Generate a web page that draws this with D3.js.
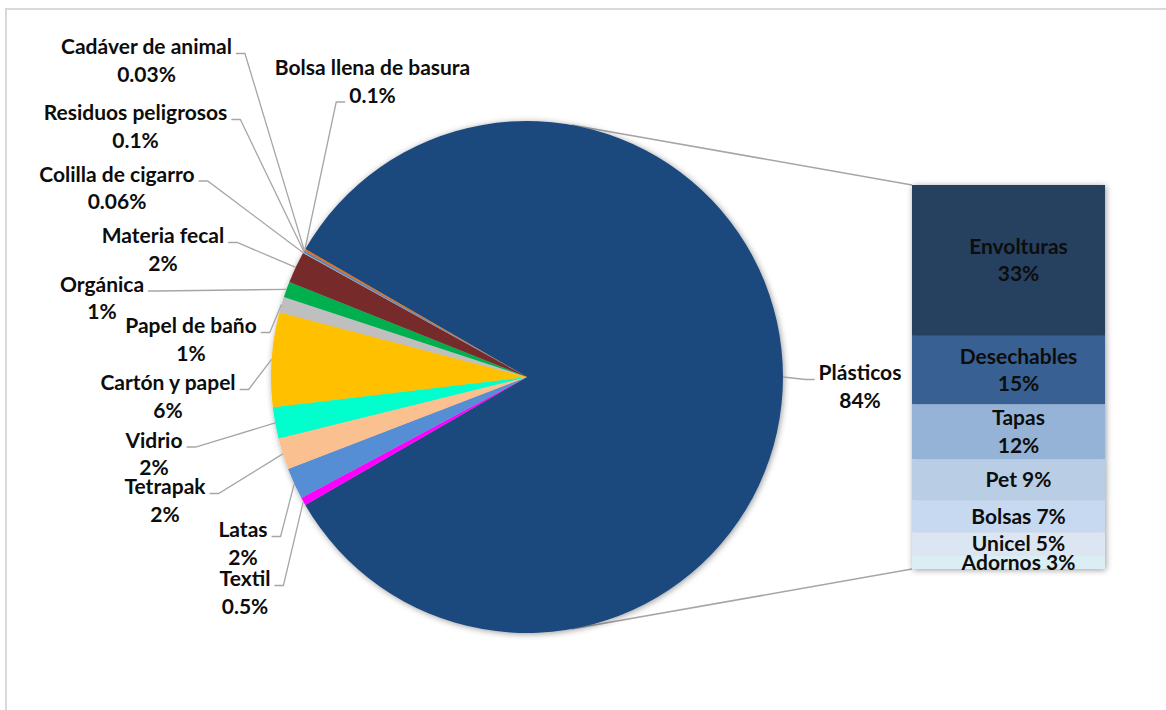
<!DOCTYPE html>
<html>
<head>
<meta charset="utf-8">
<script src="https://cdn.jsdelivr.net/npm/d3@7"></script>
<style>
  html, body { margin: 0; padding: 0; background: #ffffff; }
  svg { display: block; }
  text { font-family: "Lato", "Noto Sans", sans-serif; font-weight: 700; font-size: 21px; fill: #0d0d0d; }
</style>
</head>
<body>
<script>
// Main pie: waste categories (percent of total)
const pieNames = ["Plásticos", "Textil", "Latas", "Tetrapak", "Vidrio", "Cartón y papel",
  "Papel de baño", "Orgánica", "Materia fecal", "Colilla de cigarro",
  "Residuos peligrosos", "Cadáver de animal", "Bolsa llena de basura"];
const pieValues = [84, 0.5, 2, 2, 2, 6, 1, 1, 2, 0.06, 0.1, 0.03, 0.1];

// Breakdown of plastics (percent of total)
const barNames = ["Envolturas", "Desechables", "Tapas", "Pet", "Bolsas", "Unicel", "Adornos"];
const barValues = [33, 15, 12, 9, 7, 5, 3];

// Colours
const pieColors = ["#1F497D", "#FF00FF", "#558ED5", "#FAC090", "#00FFCC", "#FFC000",
  "#BFBFBF", "#00B050", "#772C2A", "#A6A6A6", "#4F81BD", "#8064A2", "#E46C0A"];
const barColors = ["#254061", "#376092", "#95B3D7", "#B9CDE5", "#C6D9F1", "#DCE6F2", "#DBEEF4"];

// Label placement: centre x, first baseline y, which side the leader attaches to
const labelLayout = {
  "Plásticos":             { x: 860,   y: 380,   side: "left",  line: 0 },
  "Textil":                { x: 245,   y: 586,   side: "right", line: 0 },
  "Latas":                 { x: 243,   y: 537,   side: "right", line: 0 },
  "Tetrapak":              { x: 165,   y: 494,   side: "right", line: 0 },
  "Vidrio":                { x: 154,   y: 447.5, side: "right", line: 0 },
  "Cartón y papel":        { x: 168,   y: 390,   side: "right", line: 0 },
  "Papel de baño":         { x: 191,   y: 333,   side: "right", line: 0 },
  "Orgánica":              { x: 102,   y: 291.5, side: "right", line: 0 },
  "Materia fecal":         { x: 163,   y: 243,   side: "right", line: 0 },
  "Colilla de cigarro":    { x: 117,   y: 181.5, side: "right", line: 0 },
  "Residuos peligrosos":   { x: 135.5, y: 120,   side: "right", line: 0 },
  "Cadáver de animal":     { x: 146.5, y: 54,    side: "right", line: 0 },
  "Bolsa llena de basura": { x: 372.5, y: 75,    side: "left",  line: 1 }
};
const barLabelLines = [2, 2, 2, 1, 1, 1, 1];
const lineGap = 27.5;

const W = 1166, H = 710;
const svg = d3.select("body").append("svg").attr("width", W).attr("height", H);

const defs = svg.append("defs");
const shadow = defs.append("filter").attr("id", "soft").attr("x", "-10%").attr("y", "-10%")
  .attr("width", "120%").attr("height", "120%");
shadow.append("feDropShadow").attr("dx", 1).attr("dy", 1).attr("stdDeviation", 3)
  .attr("flood-color", "#000").attr("flood-opacity", 0.4);

// Chart area frame
svg.append("rect").attr("x", 6).attr("y", 9).attr("width", W + 20).attr("height", H + 20)
  .attr("fill", "none").attr("stroke", "#d9d9d9").attr("stroke-width", 2);

const cx = 527, cy = 377, R = 256;
const pieData = pieNames.map((n, i) => ({ name: n, value: pieValues[i], color: pieColors[i] }));
const total = d3.sum(pieValues);
const plasticSpan = pieValues[0] / total * 2 * Math.PI;
const start = Math.PI / 2 - plasticSpan / 2;
const pie = d3.pie().sort(null).value(d => d.value).startAngle(start).endAngle(start + 2 * Math.PI);
const arcs = pie(pieData);
const arc = d3.arc().innerRadius(0).outerRadius(R);

// Bar (second chart) geometry
const barX = 912, barW = 193, barTop = 185, barBottom = 569;
const yBar = d3.scaleLinear().domain([0, d3.sum(barValues)]).range([barTop, barBottom]);
const cum = [0, ...d3.cumsum(barValues)];
const barData = barNames.map((n, i) => ({ name: n, value: barValues[i], y0: cum[i], y1: cum[i + 1], color: barColors[i], lines: barLabelLines[i] }));

// Connector lines: tangents from the bar corners to the pie circle
function tangent(px, py, upper) {
  const dx = px - cx, dy = py - cy;
  const d = Math.hypot(dx, dy);
  const th = Math.atan2(dy, dx);
  const a = Math.acos(R / d);
  const t = upper ? th - a : th + a;
  return [cx + R * Math.cos(t), cy + R * Math.sin(t)];
}
const conn = svg.append("g").attr("stroke", "#a6a6a6").attr("stroke-width", 1.5).attr("fill", "none");
[[barTop, true], [barBottom, false]].forEach(([py, up]) => {
  const t = tangent(barX, py, up);
  conn.append("line").attr("x1", t[0]).attr("y1", t[1]).attr("x2", barX).attr("y2", py);
});

// Pie
svg.append("g").attr("transform", `translate(${cx},${cy})`).attr("filter", "url(#soft)")
  .selectAll("path").data(arcs).join("path")
  .attr("d", arc).attr("fill", d => d.data.color);

// Bar
const barG = svg.append("g").attr("filter", "url(#soft)");
barG.selectAll("rect").data(barData).join("rect")
  .attr("x", barX).attr("width", barW)
  .attr("y", d => yBar(d.y0)).attr("height", d => yBar(d.y1) - yBar(d.y0))
  .attr("fill", d => d.color);

const barTextX = barX + barW / 2 + 10;
barData.forEach(d => {
  const mid = (yBar(d.y0) + yBar(d.y1)) / 2;
  const pct = d.value + "%";
  if (d.lines === 2) {
    svg.append("text").attr("x", barTextX).attr("y", mid - 6.5).attr("text-anchor", "middle").text(d.name);
    svg.append("text").attr("x", barTextX).attr("y", mid - 6.5 + lineGap).attr("text-anchor", "middle").text(pct);
  } else {
    svg.append("text").attr("x", barTextX).attr("y", mid + 7.5).attr("text-anchor", "middle").text(d.name + " " + pct);
  }
});

// Pie labels with leader lines
const leaders = svg.append("g").attr("stroke", "#a6a6a6").attr("stroke-width", 1.3).attr("fill", "none");
const labelsG = svg.append("g");
arcs.forEach(a => {
  const L = labelLayout[a.data.name];
  const t1 = labelsG.append("text").attr("x", L.x).attr("y", L.y).attr("text-anchor", "middle").text(a.data.name);
  const t2 = labelsG.append("text").attr("x", L.x).attr("y", L.y + lineGap).attr("text-anchor", "middle").text(a.data.value + "%");
  const node = L.line === 0 ? t1.node() : t2.node();
  const w = node.getComputedTextLength();
  const yb = (L.line === 0 ? L.y : L.y + lineGap) - 0.5;
  const mid = (a.startAngle + a.endAngle) / 2;
  const px = cx + R * Math.sin(mid), py = cy - R * Math.cos(mid);
  let elbow, end;
  if (L.side === "right") {
    end = L.x + w / 2 + 4; elbow = end + 9;
  } else {
    end = L.x - w / 2 - 4; elbow = end - 9;
  }
  leaders.append("path").attr("d", `M${px},${py}L${elbow},${yb}L${end},${yb}`);
});
</script>
</body>
</html>
